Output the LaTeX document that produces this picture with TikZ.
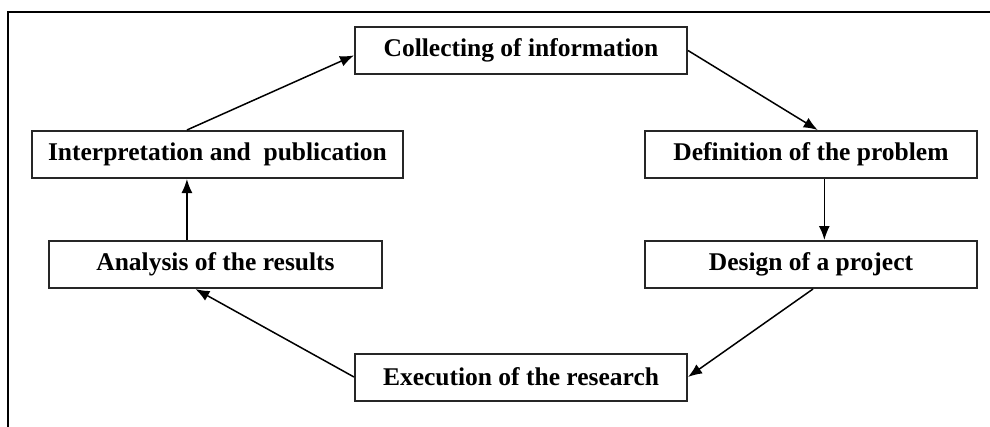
\documentclass[tikz,border=0pt]{standalone}
\usepackage{fontspec}
\setmainfont{Liberation Serif}
\usetikzlibrary{arrows.meta,calc}
\begin{document}
\begin{tikzpicture}[x=1pt,y=-1pt,
  stagebox/.style={draw=black!85,line width=2pt,minimum height=47pt,inner sep=0pt,
    font=\fontsize{25.5}{30}\selectfont\bfseries,text=black},
  flow/.style={line width=1.5pt,-{Latex[length=14pt,width=11pt]}}]
\useasboundingbox (0,0) rectangle (990,426);
\clip (0,0) rectangle (990,426);
\fill[white] (0,0) rectangle (990,426);
\draw[line width=2pt] (8,12) rectangle (1010,440);
\node[stagebox,minimum width=332pt] (coll) at (521,50.5) {Collecting of information};
\node[stagebox,minimum width=371pt] (interp) at (217.5,154.5) {Interpretation and\ \ publication};
\node[stagebox,minimum width=332pt] (defn) at (811,154.5) {Definition of the problem};
\node[stagebox,minimum width=332pt] (design) at (811,264.5) {Design of a project};
\node[stagebox,minimum width=333pt] (anal) at (215.5,264.5) {Analysis of the results};
\node[stagebox,minimum width=332pt] (exec) at (521,377) {Execution of the research};
\coordinate (pI) at ($(interp.north west)!0.418!(interp.north east)$);
\coordinate (pC) at ($(coll.north west)!0.6!(coll.south west)$);
\draw[flow] (pI) -- (pC);
\coordinate (pD) at ($(defn.north west)!0.52!(defn.north east)$);
\draw[flow] (coll.east) -- (pD);
\coordinate (pD2) at ($(defn.south west)!0.54!(defn.south east)$);
\draw[flow] (pD2) -- (pD2 |- design.north);
\coordinate (pE) at ($(design.south west)!0.506!(design.south east)$);
\draw[flow] (pE) -- (exec.east);
\coordinate (pA) at ($(anal.south west)!0.44!(anal.south east)$);
\draw[flow] (exec.west) -- (pA);
\draw[flow] (pI |- anal.north) -- (pI |- interp.south);
\end{tikzpicture}
\end{document}
